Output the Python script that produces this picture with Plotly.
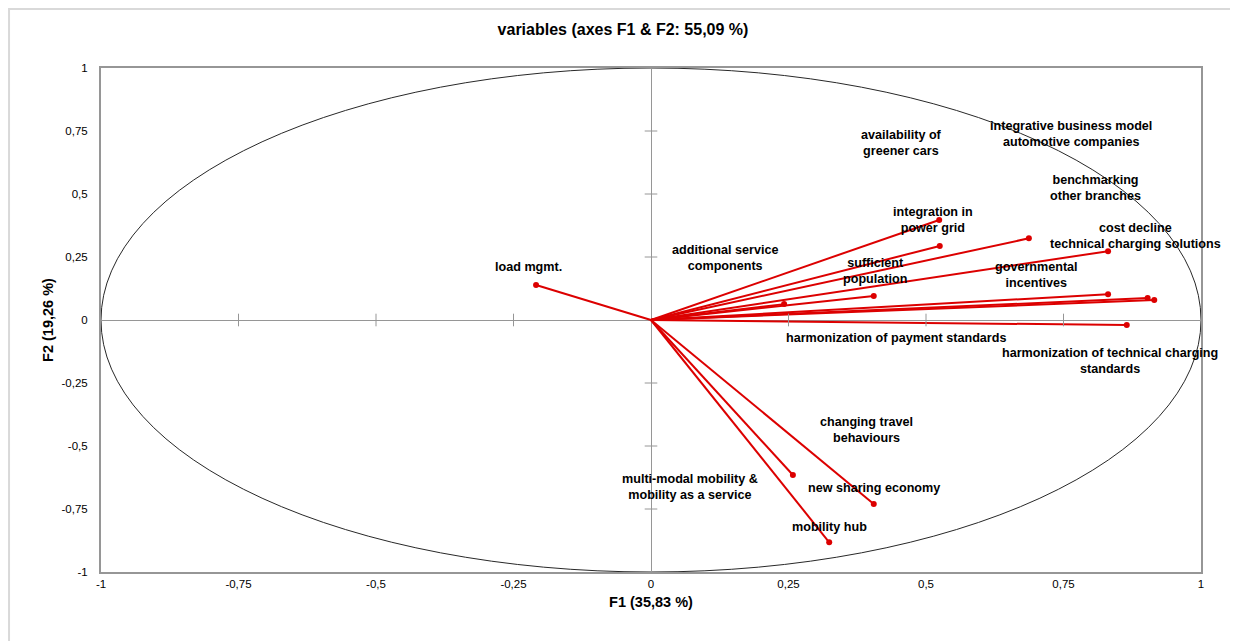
import plotly.graph_objects as go

# Loadings (F1, F2) of the variables shown as vectors
vec_f1 = [-0.209, 0.524, 0.525, 0.687, 0.831, 0.405, 0.242, 0.831, 0.903, 0.915, 0.865, 0.258, 0.405, 0.324]
vec_f2 = [0.139, 0.397, 0.294, 0.324, 0.273, 0.095, 0.063, 0.102, 0.087, 0.079, -0.020, -0.615, -0.730, -0.882]

# Variable labels and where they are written
label_text = [
    "availability of<br>greener cars",
    "integrative business model<br>automotive companies",
    "benchmarking<br>other branches",
    "integration in<br>power grid",
    "cost decline<br>technical charging solutions",
    "additional service<br>components",
    "load mgmt.",
    "sufficient<br>population",
    "governmental<br>incentives",
    "harmonization of payment standards",
    "harmonization of technical charging<br>standards",
    "changing travel<br>behaviours",
    "multi-modal mobility &<br>mobility as a service",
    "new sharing economy",
    "mobility hub",
]
label_x = [0.455, 0.764, 0.809, 0.513, 0.880, 0.135, -0.222, 0.407, 0.700, 0.445, 0.835, 0.391, 0.071, 0.405, 0.324]
label_y = [0.702, 0.738, 0.524, 0.397, 0.333, 0.246, 0.210, 0.194, 0.179, -0.071, -0.163, -0.437, -0.663, -0.667, -0.821]

tick_vals = [-1, -0.75, -0.5, -0.25, 0, 0.25, 0.5, 0.75, 1]
tick_text = ["-1", "-0,75", "-0,5", "-0,25", "0", "0,25", "0,5", "0,75", "1"]

title_text = "variables (axes F1 & F2: 55,09 %)"
x_title = "F1 (35,83 %)"
y_title = "F2 (19,26 %)"

RED = "rgb(220,0,0)"
GRAY = "rgb(150,150,150)"
FONT = "Liberation Sans, Arial, sans-serif"

fig = go.Figure()

# vectors from origin
lx, ly = [], []
for a, b in zip(vec_f1, vec_f2):
    lx += [0, a, None]
    ly += [0, b, None]
fig.add_trace(go.Scatter(x=lx, y=ly, mode="lines", line=dict(color=RED, width=2),
                         hoverinfo="skip", showlegend=False))
fig.add_trace(go.Scatter(x=vec_f1, y=vec_f2, mode="markers",
                         marker=dict(color=RED, size=6), showlegend=False))

# tick marks on the centre axes
inner = [v for v in tick_vals if v not in (-1, 0, 1)]
fig.add_trace(go.Scatter(x=inner, y=[0] * len(inner), mode="markers",
                         marker=dict(symbol="line-ns-open", size=9, color=GRAY,
                                     line=dict(color=GRAY, width=1)),
                         hoverinfo="skip", showlegend=False))
fig.add_trace(go.Scatter(x=[0] * len(inner), y=inner, mode="markers",
                         marker=dict(symbol="line-ew-open", size=9, color=GRAY,
                                     line=dict(color=GRAY, width=1)),
                         hoverinfo="skip", showlegend=False))

# correlation circle
fig.add_shape(type="circle", xref="x", yref="y", x0=-1, y0=-1, x1=1, y1=1,
              line=dict(color="rgb(40,40,40)", width=1), layer="below")

# outer chart-area border
fig.add_shape(type="rect", xref="paper", yref="paper", x0=-0.0836, x1=1.04, y0=-0.15, y1=1.117,
              line=dict(color="rgb(217,217,217)", width=2))

for t, x, y in zip(label_text, label_x, label_y):
    fig.add_annotation(x=x, y=y, text="<b>" + t + "</b>", showarrow=False,
                       font=dict(family=FONT, size=12.6, color="black"), align="center")

fig.update_layout(
    width=1230, height=633,
    margin=dict(l=93, r=37, t=60, b=69, autoexpand=False),
    paper_bgcolor="white", plot_bgcolor="white",
    title=dict(text="<b>" + title_text + "</b>", x=0.5, xanchor="center", y=0.966, yanchor="middle",
               font=dict(family=FONT, size=16, color="black")),
    xaxis=dict(range=[-1, 1], tickvals=tick_vals, ticktext=tick_text, showgrid=False,
               zeroline=True, zerolinecolor=GRAY, zerolinewidth=1, automargin=False,
               showline=True, mirror=True, linecolor=GRAY, linewidth=2,
               ticks="", tickcolor="white",
               tickfont=dict(family=FONT, size=11.5, color="black"),
               title=dict(text="<b>" + x_title + "</b>", font=dict(family=FONT, size=14.5, color="black"), standoff=8)),
    yaxis=dict(range=[-1, 1], tickvals=tick_vals, ticktext=tick_text, showgrid=False,
               zeroline=True, zerolinecolor=GRAY, zerolinewidth=1, automargin=False,
               showline=True, mirror=True, linecolor=GRAY, linewidth=2,
               ticks="outside", ticklen=9, tickcolor="white",
               tickfont=dict(family=FONT, size=11.5, color="black"),
               title=dict(text="<b>" + y_title + "</b>", font=dict(family=FONT, size=14.5, color="black"), standoff=4)),
)

fig.write_html("out.html")
